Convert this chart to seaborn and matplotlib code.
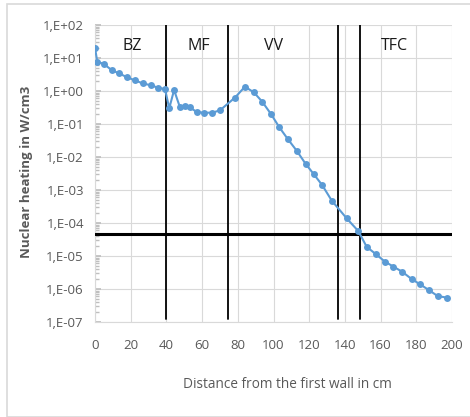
import matplotlib
matplotlib.use("Agg")
import matplotlib.pyplot as plt
import matplotlib.ticker as mticker
from matplotlib.patches import Rectangle
import seaborn as sns
import pandas as pd
import numpy as np

distance_cm = [0, 1.3, 5, 9.3, 13.6, 18, 22.4, 26.7, 31.1, 35.5, 39.2, 41.6, 44.3,
               47.6, 50.4, 53.2, 57, 61.2, 65.7, 70, 78.4, 84, 89, 93.6, 98.6,
               103.3, 108, 113, 118, 122.6, 127.3, 132.6, 141, 147.5, 152.2,
               157.4, 162.5, 167.1, 172.2, 177.4, 182, 187, 192, 197]
heating = [20, 7.7, 6.6, 4.3, 3.4, 2.6, 2.1, 1.7, 1.5, 1.25, 1.15, 0.3, 1.07,
           0.32, 0.35, 0.32, 0.23, 0.22, 0.22, 0.26, 0.63, 1.35, 0.91, 0.48, 0.2,
           0.079, 0.035, 0.0155, 0.0062, 0.003, 0.0014, 4.8e-4, 1.38e-4, 5.7e-5, 1.9e-5,
           1.13e-5, 6.7e-6, 4.8e-6, 3.3e-6, 2.0e-6, 1.4e-6, 9.3e-7, 6.1e-7, 5.5e-7]

boundaries_cm = [40, 74.3, 136.3, 148.5]
limit_value = 4.8e-5
zone_names = ["BZ", "MF", "VV", "TFC"]
zone_x = [21, 58, 100, 168]
zone_y = 23

df = pd.DataFrame({"distance": distance_cm, "heating": heating})

sns.set_theme(style="white")
plt.rcParams["font.family"] = ["Open Sans", "DejaVu Sans"]

fig = plt.figure(figsize=(4.70, 4.17), dpi=100)
ax = fig.add_axes([95 / 470, 1 - 322 / 417, (452 - 95) / 470, (322 - 25) / 417])

ax.set_yscale("log")
ax.set_xlim(0, 200)
ax.set_ylim(1e-7, 1e2)

ax.grid(True, which="major", color="#d9d9d9", linewidth=0.8)
ax.set_axisbelow(True)

for xb in boundaries_cm:
    ax.plot([xb, xb], [1.25e-7, 1e2], color="black", linewidth=1.3, zorder=3)
ax.axhline(limit_value, color="black", linewidth=2.2, zorder=3)

sns.lineplot(data=df, x="distance", y="heating", ax=ax, color="#5B9BD5",
             marker="o", markersize=5, markeredgewidth=0, linewidth=1.5, zorder=4)

for name, zx in zip(zone_names, zone_x):
    ax.text(zx, zone_y, name, ha="center", va="center", fontsize=11.5, color="#1a1a1a")

ax.set_xticks(np.arange(0, 201, 20))
ax.yaxis.set_major_locator(mticker.LogLocator(base=10, numticks=20))
ax.yaxis.set_minor_locator(mticker.LogLocator(base=10, subs=np.arange(2, 10), numticks=20))
ax.yaxis.set_minor_formatter(mticker.NullFormatter())

def fmt(v, pos):
    e = int(round(np.log10(v)))
    return "1,E+%02d" % e if e >= 0 else "1,E-%02d" % (-e)

ax.yaxis.set_major_formatter(mticker.FuncFormatter(fmt))
ax.tick_params(axis="x", labelsize=9.5, labelcolor="#595959", length=0, pad=12)
ax.tick_params(axis="y", labelsize=9.5, labelcolor="#595959", pad=8)
ax.tick_params(axis="y", which="minor", left=True, length=3, color="#bfbfbf", direction="in")
ax.tick_params(axis="y", which="major", left=True, length=4, color="#bfbfbf", direction="in")

for s in ["top", "right"]:
    ax.spines[s].set_visible(False)
for s in ["left", "bottom"]:
    ax.spines[s].set_color("#d9d9d9")
    ax.spines[s].set_linewidth(0.8)

ax.set_xlabel("Distance from the first wall in cm", fontsize=9.8, color="#595959")
ax.set_ylabel("Nuclear heating in W/cm3", fontsize=9.5, color="#595959", fontweight="bold")
ax.xaxis.set_label_coords(0.538, -0.186)
ax.yaxis.set_label_coords(-0.175, 0.505)

fig.patches.append(Rectangle((7 / 470, 0), 1, 1 - 4 / 417, transform=fig.transFigure,
                             fill=False, edgecolor="#d9d9d9", linewidth=1.2))

fig.savefig("out.png", dpi=100)
